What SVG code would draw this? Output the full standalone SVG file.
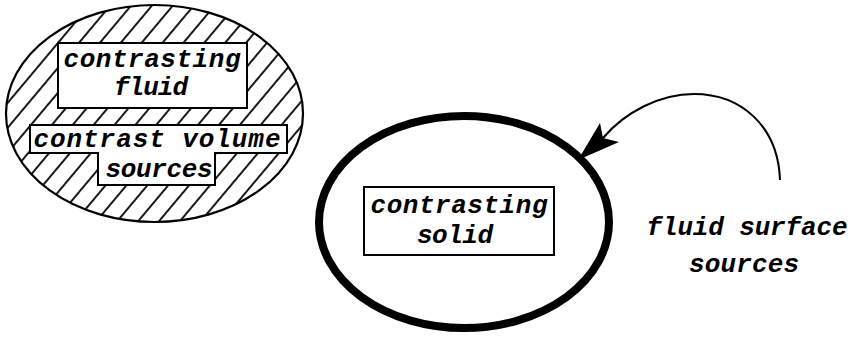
<svg xmlns="http://www.w3.org/2000/svg" width="857" height="338" viewBox="0 0 857 338">
<defs>
<pattern id="hatch" patternUnits="userSpaceOnUse" width="16" height="16" patternTransform="rotate(40)">
<line x1="8" y1="-2" x2="8" y2="18" stroke="#000" stroke-width="1.8"/>
</pattern>
</defs>
<style>
.t{font-family:"Liberation Mono","DejaVu Sans Mono",monospace;font-style:italic;font-weight:bold;font-size:26px;fill:#000;text-anchor:middle}
.box{fill:#fff;stroke:#000;stroke-width:2}
</style>
<rect width="857" height="338" fill="#fff"/>
<g id="fluid-region">
<ellipse cx="154.5" cy="113.5" rx="148.5" ry="108.5" fill="url(#hatch)" stroke="#000" stroke-width="2.2"/>
</g>
<g id="contrasting-fluid">
<rect class="box" x="58" y="43" width="189" height="65"/>
<text class="t" x="152" y="67" textLength="177" lengthAdjust="spacing">contrasting</text>
<text class="t" x="151" y="95" textLength="74" lengthAdjust="spacing">fluid</text>
</g>
<g id="contrast-volume-sources">
<path class="box" d="M30,125 H287 V153 H215 V185 H98 V153 H30 Z"/>
<text class="t" x="157" y="147" textLength="247" lengthAdjust="spacing">contrast volume</text>
<text class="t" x="159" y="177" textLength="107" lengthAdjust="spacing">sources</text>
</g>
<g id="contrasting-solid">
<ellipse cx="464" cy="222" rx="145" ry="106" fill="none" stroke="#000" stroke-width="8"/>
<rect class="box" x="364" y="187" width="190" height="68"/>
<text class="t" x="459" y="213" textLength="177" lengthAdjust="spacing">contrasting</text>
<text class="t" x="455" y="243" textLength="76" lengthAdjust="spacing">solid</text>
</g>
<g id="fluid-surface-sources">
<text class="t" x="747" y="235" textLength="201" lengthAdjust="spacing">fluid surface</text>
<text class="t" x="744" y="272" textLength="110" lengthAdjust="spacing">sources</text>
</g>
<g id="connectors">
<path d="M780,180 C778,125 740,94 694,94 C660,94 625,112 603,138" fill="none" stroke="#000" stroke-width="2"/>
<polygon points="578,160 600,123 603,138 619,142" fill="#000"/>
</g>
</svg>
